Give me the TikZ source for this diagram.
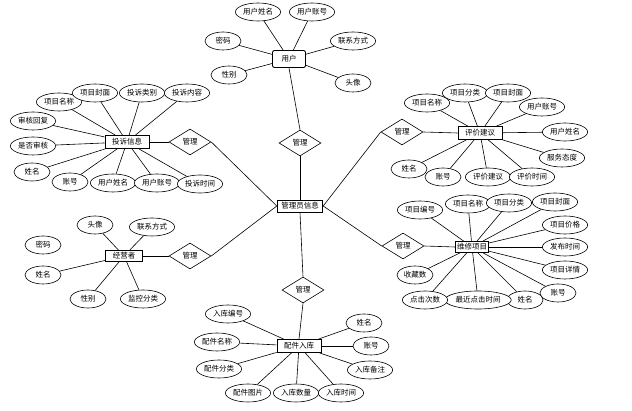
\documentclass[tikz,border=0pt]{standalone}
\usepackage{fontspec}
\setmainfont{Noto Sans CJK SC}
\usetikzlibrary{shapes.geometric,backgrounds}

\begin{document}
\begin{tikzpicture}[x=1pt, y=-1pt,
    every node/.style={font=\fontsize{7.5}{9}\selectfont},
    entity/.style={draw, fill=white, line width=0.9pt, minimum height=13pt, inner xsep=7pt, inner ysep=0pt},
    attr/.style={ellipse, draw, fill=white, line width=0.6pt, minimum width=36pt, minimum height=18pt, inner sep=1pt},
    rel/.style={diamond, draw, fill=white, line width=0.6pt, minimum width=42pt, minimum height=26pt, inner sep=0pt},
    link/.style={line width=0.6pt}]
  \useasboundingbox (0,0) rectangle (632,411);

  % Centre
  \node[entity, inner xsep=4pt, minimum height=12pt] (admin) at (300,206) {管理员信息};
  \node[rel] (dU) at (300,143) {管理};
  \node[rel] (dC) at (190,142) {管理};
  \node[rel] (dE) at (402,132) {管理};
  \node[rel] (dM) at (190,256) {管理};
  \node[rel] (dR) at (403,246) {管理};
  \node[rel] (dP) at (303,290) {管理};

  % User
  \node[entity, rounded corners=2pt, minimum width=33pt, minimum height=17pt] (user) at (289,59) {用户};
  \node[attr] (u1) at (258,12) {用户姓名};
  \node[attr] (u2) at (312,12) {用户账号};
  \node[attr] (u3) at (223,41) {密码};
  \node[attr] (u4) at (353,41) {联系方式};
  \node[attr] (u5) at (229,75) {性别};
  \node[attr] (u6) at (353,83) {头像};

  % Complaint
  \node[entity] (comp) at (127,142) {投诉信息};
  \node[attr] (c1) at (59,102) {项目名称};
  \node[attr] (c2) at (95,93) {项目封面};
  \node[attr] (c3) at (142,93) {投诉类别};
  \node[attr] (c4) at (187,93) {投诉内容};
  \node[attr] (c5) at (33,121) {审核回复};
  \node[attr] (c6) at (33,146) {是否审核};
  \node[attr] (c7) at (32,172) {姓名};
  \node[attr] (c8) at (70,182) {账号};
  \node[attr] (c9) at (113,183) {用户姓名};
  \node[attr] (c10) at (157,183) {用户账号};
  \node[attr] (c11) at (200,184) {投诉时间};

  % Evaluation
  \node[entity] (eval) at (480,133) {评价建议};
  \node[attr] (e1) at (427,103) {项目名称};
  \node[attr] (e2) at (465,93) {项目分类};
  \node[attr] (e3) at (508,93) {项目封面};
  \node[attr] (e4) at (542,107) {用户账号};
  \node[attr] (e5) at (565,132) {用户姓名};
  \node[attr] (e6) at (562,158) {服务态度};
  \node[attr] (e7) at (409,169) {姓名};
  \node[attr] (e8) at (443,177) {账号};
  \node[attr] (e9) at (488,177) {评价建议};
  \node[attr] (e10) at (532,177) {评价时间};

  % Operator
  \node[entity, minimum height=11pt] (mgr) at (124,256) {经营者};
  \node[attr] (m1) at (95,225) {头像};
  \node[attr] (m2) at (152,227) {联系方式};
  \node[attr] (m3) at (43,245) {密码};
  \node[attr] (m4) at (43,275) {姓名};
  \node[attr] (m5) at (88,299) {性别};
  \node[attr] (m6) at (143,299) {监控分类};

  % Repair items
  \node[entity, inner xsep=1.5pt, minimum height=11pt] (rep) at (472,247) {维修项目};
  \node[attr] (r1) at (420,210) {项目编号};
  \node[attr] (r2) at (468,204) {项目名称};
  \node[attr] (r3) at (509,203) {项目分类};
  \node[attr] (r4) at (555,202) {项目封面};
  \node[attr] (r5) at (565,225) {项目价格};
  \node[attr] (r6) at (565,247) {发布时间};
  \node[attr] (r7) at (565,270) {项目详情};
  \node[attr] (r8) at (558,293) {账号};
  \node[attr] (r9) at (525,300) {姓名};
  \node[attr] (r10) at (478,300) {最近点击时间};
  \node[attr] (r11) at (425,300) {点击次数};
  \node[attr] (r12) at (415,275) {收藏数};

  % Parts stock-in
  \node[entity] (part) at (299,346) {配件入库};
  \node[attr] (p1) at (228,314) {入库编号};
  \node[attr] (p2) at (217,342) {配件名称};
  \node[attr] (p3) at (219,369) {配件分类};
  \node[attr] (p4) at (248,393) {配件图片};
  \node[attr] (p5) at (296,393) {入库数量};
  \node[attr] (p6) at (341,393) {入库时间};
  \node[attr] (p7) at (370,370) {入库备注};
  \node[attr] (p8) at (371,346) {账号};
  \node[attr] (p9) at (364,323) {姓名};

  % Links
  \begin{scope}[on background layer]
    \draw[link] (admin.north) -- (dU.south);
    \draw[link] (admin.west) -- (dC.east);
    \draw[link] (admin.west) -- (dM.east);
    \draw[link] (admin.east) -- (dE.west);
    \draw[link] (admin.east) -- (dR.west);
    \draw[link] (admin.south) -- (dP.north);
    \draw[link] (dU.north) -- (user.south);
    \draw[link] (dC.west) -- (comp.east);
    \draw[link] (dM.west) -- (mgr.east);
    \draw[link] (dE.east) -- (eval.west);
    \draw[link] (dR.east) -- (rep.west);
    \draw[link] (dP.south) -- (part.north);
    \foreach \i in {1,...,6} \draw[link] (user) -- (u\i);
    \foreach \i in {1,...,11} \draw[link] (comp) -- (c\i);
    \foreach \i in {1,...,10} \draw[link] (eval) -- (e\i);
    \foreach \i in {1,2,4,5,6} \draw[link] (mgr) -- (m\i);
    \foreach \i in {1,...,12} \draw[link] (rep) -- (r\i);
    \foreach \i in {1,...,9} \draw[link] (part) -- (p\i);
  \end{scope}
\end{tikzpicture}
\end{document}
